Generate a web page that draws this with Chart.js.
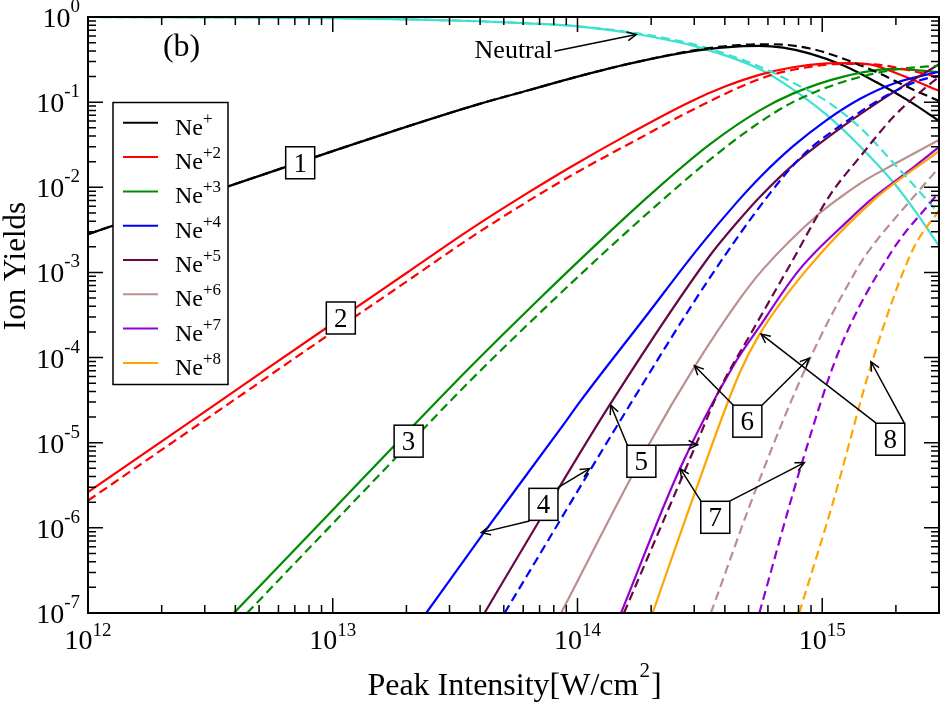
<!DOCTYPE html>
<html>
<head>
<meta charset="utf-8">
<script src="https://cdn.jsdelivr.net/npm/chart.js@4.4.1/dist/chart.umd.min.js"></script>
<style>
  html, body { margin: 0; padding: 0; background: #fff; }
  #wrap { width: 942px; height: 709px; }
</style>
</head>
<body>
<div id="wrap"><canvas id="yields" width="942" height="709"></canvas></div>
<script>
// values as [log10(intensity), log10(yield)]
const neutralSolid = [[12, 0], [12.5, -0.004], [13, -0.013], [13.3, -0.027], [13.6, -0.05], [13.8, -0.075], [14, -0.11], [14.24, -0.2], [14.5, -0.36], [14.75, -0.62], [14.88, -0.85], [15.018, -1.15], [15.155, -1.52], [15.293, -1.95], [15.38, -2.28], [15.48, -2.7]];
const neutralDashed = [[12, 0], [12.5, -0.004], [13, -0.013], [13.3, -0.027], [13.6, -0.05], [13.8, -0.075], [14, -0.11], [14.24, -0.19], [14.5, -0.34], [14.75, -0.59], [14.88, -0.77], [15.018, -0.99], [15.155, -1.3], [15.293, -1.72], [15.416, -2.11], [15.48, -2.32]];

const ne1Solid = [[12, -2.55], [12.5, -2.06], [13, -1.575], [13.3, -1.29], [13.6, -1.02], [13.8, -0.86], [14, -0.7], [14.24, -0.53], [14.5, -0.39], [14.66, -0.345], [14.743, -0.34], [14.84, -0.36], [14.95, -0.43], [15.087, -0.57], [15.224, -0.77], [15.362, -1.0], [15.48, -1.225]];
const ne1Dashed = [[12, -2.55], [12.5, -2.06], [13, -1.575], [13.3, -1.29], [13.6, -1.02], [13.8, -0.86], [14, -0.7], [14.24, -0.53], [14.5, -0.38], [14.66, -0.33], [14.8, -0.32], [14.95, -0.37], [15.087, -0.49], [15.224, -0.65], [15.362, -0.84], [15.48, -0.99]];

const ne2Solid = [[12, -5.58], [12.5, -4.59], [13, -3.6], [13.3, -3.01], [13.559, -2.5], [13.8, -2.06], [13.967, -1.77], [14.2, -1.39], [14.457, -1.0], [14.6, -0.82], [14.743, -0.68], [14.88, -0.59], [15.018, -0.545], [15.11, -0.54], [15.2, -0.56], [15.293, -0.65], [15.48, -0.87]];
const ne2Dashed = [[12, -5.68], [12.5, -4.69], [13, -3.7], [13.3, -3.11], [13.559, -2.6], [13.8, -2.16], [14, -1.82], [14.25, -1.43], [14.498, -1.05], [14.743, -0.73], [14.88, -0.62], [15.087, -0.55], [15.224, -0.56], [15.362, -0.63], [15.48, -0.71]];

const ne3Solid = [[12.596, -7], [13, -5.79], [13.306, -4.87], [13.559, -4.12], [13.83, -3.35], [14.103, -2.6], [14.3, -2.08], [14.539, -1.5], [14.743, -1.1], [14.88, -0.9], [15.087, -0.7], [15.293, -0.61], [15.48, -0.65]];
const ne3Dashed = [[12.65, -7], [13, -5.95], [13.3, -5.05], [13.559, -4.28], [13.83, -3.52], [14.1, -2.79], [14.3, -2.27], [14.539, -1.68], [14.743, -1.24], [14.88, -1.0], [15.087, -0.76], [15.293, -0.62], [15.48, -0.57]];

const ne4Solid = [[13.382, -7], [13.614, -6.07], [13.927, -4.85], [14.015, -4.5], [14.27, -3.55], [14.498, -2.7], [14.65, -2.18], [14.75, -1.87], [14.88, -1.52], [15.018, -1.21], [15.155, -0.96], [15.293, -0.78], [15.48, -0.64]];
const ne4Dashed = [[13.702, -7], [14.226, -4.5], [14.539, -3.07], [14.784, -2.08], [14.922, -1.62], [15.087, -1.25], [15.265, -0.92], [15.403, -0.74], [15.48, -0.69]];

const ne5Solid = [[13.62, -7], [13.845, -5.91], [14.144, -4.5], [14.539, -2.81], [14.65, -2.42], [14.75, -2.1], [14.88, -1.74], [15.087, -1.28], [15.293, -0.88], [15.48, -0.55]];
const ne5Dashed = [[14.19, -7], [14.498, -4.93], [14.58, -4.38], [14.716, -3.68], [14.865, -2.93], [15.03, -2.1], [15.155, -1.64], [15.293, -1.167], [15.43, -0.81], [15.48, -0.7]];

const ne6Solid = [[13.933, -7], [14.294, -5.01], [14.478, -4.11], [14.661, -3.32], [14.756, -2.97], [14.975, -2.34], [15.073, -2.12], [15.18, -1.91], [15.293, -1.73], [15.48, -1.44]];
const ne6Dashed = [[14.545, -7], [14.743, -5.44], [14.947, -4.03], [15.14, -2.97], [15.192, -2.74], [15.362, -2.15], [15.48, -1.76]];

const ne7Solid = [[14.178, -7], [14.416, -5.32], [14.634, -4.11], [14.743, -3.64], [14.906, -2.97], [15.11, -2.38], [15.197, -2.15], [15.362, -1.79], [15.48, -1.52]];
const ne7Dashed = [[14.743, -7], [14.92, -5.21], [15.07, -3.91], [15.287, -2.74], [15.445, -2.17], [15.48, -2.05]];

const ne8Solid = [[14.307, -7], [14.478, -5.6], [14.661, -4.19], [14.743, -3.73], [14.93, -2.99], [15.21, -2.15], [15.48, -1.57]];
const ne8Dashed = [[14.906, -7], [15.042, -5.72], [15.206, -4.03], [15.369, -2.74], [15.48, -2.26]];

// axis decades (tick labels are 10^n)
const xDecades = ['12', '13', '14', '15'];
const yDecades = ['0', '-1', '-2', '-3', '-4', '-5', '-6', '-7'];
const ionCharges = ['+', '+2', '+3', '+4', '+5', '+6', '+7', '+8'];

// numbered boxes and arrows, placed in data space (log10 units)
const boxLabels = [
    { text: '1', at: [12.867, -1.712] },
    { text: '2', at: [13.033, -3.535] },
    { text: '3', at: [13.31, -4.982] },
    { text: '4', at: [13.861, -5.724] },
    { text: '5', at: [14.261, -5.218] },
    { text: '6', at: [14.694, -4.747] },
    { text: '7', at: [14.563, -5.876] },
    { text: '8', at: [15.278, -4.959] }
];
const arrowList = [
    { from: [13.804, -5.92], to: [13.607, -6.056] },
    { from: [13.92, -5.527], to: [14.049, -5.304] },
    { from: [14.204, -5.029], to: [14.136, -4.559] },
    { from: [14.321, -5.029], to: [14.491, -5.024] },
    { from: [14.637, -4.559], to: [14.478, -4.096] },
    { from: [14.754, -4.559], to: [14.947, -4.009] },
    { from: [14.505, -5.688], to: [14.42, -5.304] },
    { from: [14.62, -5.688], to: [14.927, -5.233] },
    { from: [15.219, -4.767], to: [14.75, -3.724] },
    { from: [15.335, -4.767], to: [15.199, -4.049] },
    { from: [13.906, -0.402], to: [14.24, -0.206] }
];

const SERIF = "'Liberation Serif', 'Times New Roman', serif";
const colors = {
    neutral: '#40e0d0', ne1: '#000000', ne2: '#ff0000', ne3: '#008b00', ne4: '#0000ff',
    ne5: '#670748', ne6: '#bc8f8f', ne7: '#9400d3', ne8: '#ffa500'
};

const toPoints = (pairs) => pairs.map(([lx, ly]) => ({ x: Math.pow(10, lx), y: Math.pow(10, ly) }));

const makeSet = (label, pairs, color, dashed) => ({
    label,
    data: toPoints(pairs),
    borderColor: color,
    backgroundColor: color,
    borderWidth: 2.2,
    borderDash: dashed ? [9, 5] : [],
    pointRadius: 0,
    fill: false,
    cubicInterpolationMode: 'monotone'
});

const datasets = [
    makeSet('Ne+8 dashed', ne8Dashed, colors.ne8, true),
    makeSet('Ne+7 dashed', ne7Dashed, colors.ne7, true),
    makeSet('Ne+6 dashed', ne6Dashed, colors.ne6, true),
    makeSet('Ne+5 dashed', ne5Dashed, colors.ne5, true),
    makeSet('Ne+4 dashed', ne4Dashed, colors.ne4, true),
    makeSet('Ne+3 dashed', ne3Dashed, colors.ne3, true),
    makeSet('Ne+2 dashed', ne2Dashed, colors.ne2, true),
    makeSet('Ne+ dashed', ne1Dashed, colors.ne1, true),
    makeSet('Neutral dashed', neutralDashed, colors.neutral, true),
    makeSet('Ne+8', ne8Solid, colors.ne8, false),
    makeSet('Ne+7', ne7Solid, colors.ne7, false),
    makeSet('Ne+6', ne6Solid, colors.ne6, false),
    makeSet('Ne+5', ne5Solid, colors.ne5, false),
    makeSet('Ne+4', ne4Solid, colors.ne4, false),
    makeSet('Ne+3', ne3Solid, colors.ne3, false),
    makeSet('Ne+2', ne2Solid, colors.ne2, false),
    makeSet('Ne+', ne1Solid, colors.ne1, false),
    makeSet('Neutral', neutralSolid, colors.neutral, false)
];
const legendColors = [colors.ne1, colors.ne2, colors.ne3, colors.ne4, colors.ne5, colors.ne6, colors.ne7, colors.ne8];

// text with a raised part, e.g. 10^-3
const drawPower = (ctx, base, sup, x, y, baseSize, supSize, rise, align) => {
    ctx.font = `${baseSize}px ${SERIF}`;
    const wb = ctx.measureText(base).width;
    ctx.font = `${supSize}px ${SERIF}`;
    const ws = ctx.measureText(sup).width;
    let start = x;
    if (align === 'center') start = x - (wb + ws) / 2;
    if (align === 'right') start = x - (wb + ws);
    ctx.textAlign = 'left';
    ctx.textBaseline = 'alphabetic';
    ctx.font = `${baseSize}px ${SERIF}`;
    ctx.fillText(base, start, y);
    ctx.font = `${supSize}px ${SERIF}`;
    ctx.fillText(sup, start + wb, y - rise);
    return start + wb + ws;
};

const arrowHead = (ctx, x0, y0, x1, y1) => {
    const ang = Math.atan2(y1 - y0, x1 - x0);
    const len = 10, spread = 0.45;
    ctx.beginPath();
    ctx.moveTo(x1 - len * Math.cos(ang - spread), y1 - len * Math.sin(ang - spread));
    ctx.lineTo(x1, y1);
    ctx.lineTo(x1 - len * Math.cos(ang + spread), y1 - len * Math.sin(ang + spread));
    ctx.stroke();
};

const decorPlugin = {
    id: 'decor',
    afterDatasetsDraw(chart) {
        const { ctx, chartArea: area } = chart;
        const xs = chart.scales.x, ys = chart.scales.y;
        const px = (lx) => xs.getPixelForValue(Math.pow(10, lx));
        const py = (ly) => ys.getPixelForValue(Math.pow(10, ly));
        ctx.save();
        ctx.fillStyle = '#000';
        ctx.strokeStyle = '#000';

        // frame
        ctx.lineWidth = 2;
        ctx.setLineDash([]);
        ctx.strokeRect(area.left, area.top, area.right - area.left, area.bottom - area.top);

        // inward ticks on all four sides
        ctx.lineWidth = 1.5;
        ctx.beginPath();
        xDecades.forEach((d) => {
            const dec = Number(d);
            for (let k = 1; k <= 9; k++) {
                const v = k * Math.pow(10, dec);
                if (v > xs.max * 1.0001) break;
                const x = xs.getPixelForValue(v);
                const len = k === 1 ? 15 : 8;
                ctx.moveTo(x, area.bottom); ctx.lineTo(x, area.bottom - len);
                ctx.moveTo(x, area.top); ctx.lineTo(x, area.top + len);
            }
        });
        yDecades.forEach((d) => {
            const dec = Number(d);
            for (let k = 1; k <= 9; k++) {
                const v = k * Math.pow(10, dec);
                if (v > ys.max * 1.0001) break;
                const y = ys.getPixelForValue(v);
                const len = k === 1 ? 15 : 8;
                ctx.moveTo(area.left, y); ctx.lineTo(area.left + len, y);
                ctx.moveTo(area.right, y); ctx.lineTo(area.right - len, y);
            }
        });
        ctx.stroke();

        // tick labels
        xDecades.forEach((d) => {
            drawPower(ctx, '10', d, px(Number(d)), area.bottom + 36, 28, 19, 13, 'center');
        });
        yDecades.forEach((d) => {
            const y = py(Number(d));
            drawPower(ctx, '10', d, area.left - 8, y + 10, 28, 19, 15, 'right');
        });

        // axis titles
        const midX = (area.left + area.right) / 2;
        ctx.font = `32px ${SERIF}`;
        const part1 = 'Peak Intensity[W/cm';
        const w1 = ctx.measureText(part1).width;
        ctx.font = `21px ${SERIF}`;
        const w2 = ctx.measureText('2').width;
        ctx.font = `32px ${SERIF}`;
        const w3 = ctx.measureText(']').width;
        let tx = midX - (w1 + w2 + w3) / 2;
        ctx.textAlign = 'left';
        ctx.fillText(part1, tx, 695);
        ctx.font = `21px ${SERIF}`;
        ctx.fillText('2', tx + w1 + 1, 677);
        ctx.font = `32px ${SERIF}`;
        ctx.fillText(']', tx + w1 + w2 + 2, 695);

        ctx.save();
        ctx.translate(25, 266);
        ctx.rotate(-Math.PI / 2);
        ctx.font = `31px ${SERIF}`;
        ctx.textAlign = 'center';
        ctx.fillText('Ion Yields', 0, 0);
        ctx.restore();

        // panel tag and neutral note
        ctx.font = `32px ${SERIF}`;
        ctx.textAlign = 'left';
        ctx.fillText('(b)', px(12.306), py(-0.335) + 10);
        ctx.font = `26px ${SERIF}`;
        ctx.textAlign = 'right';
        ctx.fillText('Neutral', px(13.898), py(-0.382) + 8);

        // arrows
        ctx.lineWidth = 1.5;
        arrowList.forEach((a) => {
            const x0 = px(a.from[0]), y0 = py(a.from[1]);
            const x1 = px(a.to[0]), y1 = py(a.to[1]);
            ctx.beginPath();
            ctx.moveTo(x0, y0);
            ctx.lineTo(x1, y1);
            ctx.stroke();
            arrowHead(ctx, x0, y0, x1, y1);
        });

        // numbered boxes
        boxLabels.forEach((b) => {
            const cx = px(b.at[0]), cy = py(b.at[1]);
            ctx.fillStyle = '#fff';
            ctx.fillRect(cx - 14.5, cy - 16, 29, 32);
            ctx.strokeStyle = '#000';
            ctx.lineWidth = 1.5;
            ctx.strokeRect(cx - 14.5, cy - 16, 29, 32);
            ctx.fillStyle = '#000';
            ctx.font = `27px ${SERIF}`;
            ctx.textAlign = 'center';
            ctx.textBaseline = 'alphabetic';
            ctx.fillText(b.text, cx, cy + 9);
        });

        // legend box
        const lx = area.left + 25, ly = area.top + 85.5, lw = 115, lh = 282;
        ctx.fillStyle = '#fff';
        ctx.fillRect(lx, ly, lw, lh);
        ctx.strokeStyle = '#000';
        ctx.lineWidth = 1.5;
        ctx.strokeRect(lx, ly, lw, lh);
        ionCharges.forEach((q, i) => {
            const rowY = ly + 20.3 + i * 34.3;
            ctx.strokeStyle = legendColors[i];
            ctx.lineWidth = 2;
            ctx.beginPath();
            ctx.moveTo(lx + 10, rowY);
            ctx.lineTo(lx + 45, rowY);
            ctx.stroke();
            ctx.fillStyle = '#000';
            drawPower(ctx, 'Ne', q, lx + 62, rowY + 12, 24, 17, 11, 'left');
        });
        ctx.restore();
    }
};

new Chart(document.getElementById('yields'), {
    type: 'line',
    data: { datasets },
    options: {
        responsive: false,
        animation: false,
        devicePixelRatio: 1,
        layout: { padding: { left: 88, top: 17, right: 3, bottom: 96 } },
        plugins: { legend: { display: false }, tooltip: { enabled: false } },
        scales: {
            x: { type: 'logarithmic', min: 1e12, max: 3e15, display: false },
            y: { type: 'logarithmic', min: 1e-7, max: 1, display: false }
        }
    },
    plugins: [decorPlugin]
});
</script>
</body>
</html>
